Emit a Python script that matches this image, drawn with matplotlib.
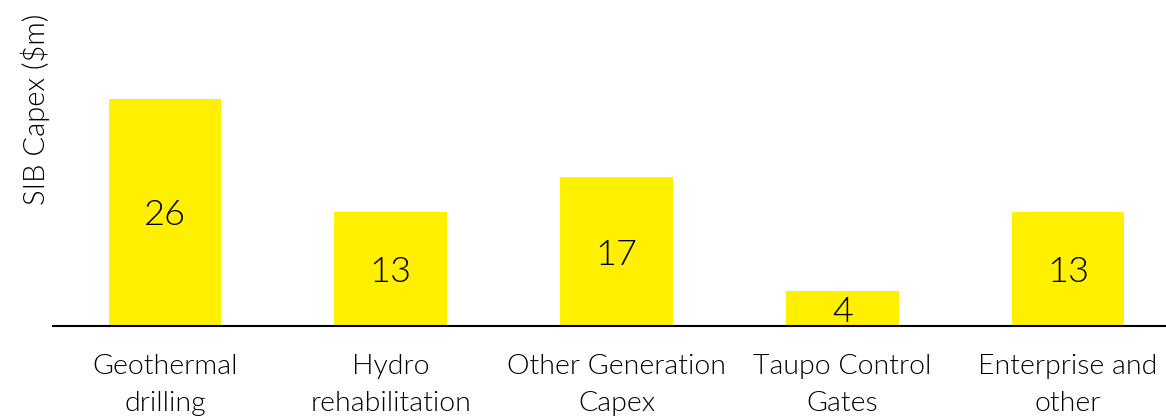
import matplotlib as mpl
mpl.use("Agg")
import matplotlib.pyplot as plt

categories = ["Geothermal\ndrilling", "Hydro\nrehabilitation", "Other Generation\nCapex",
              "Taupo Control\nGates", "Enterprise and\nother"]
values = [26, 13, 17, 4, 13]

plt.rcParams['font.family'] = ['Lato', 'DejaVu Sans']
W = 300  # light, not hairline

fig = plt.figure(figsize=(11.66, 4.17), dpi=100)
ax = fig.add_axes([53 / 1166, 1 - 326 / 417, 1 - 53 / 1166, 326 / 417])

x = list(range(len(values)))
ax.bar(x, values, width=0.5, color='#FFF000')
for xi, v in zip(x, values):
    ax.text(xi, v / 2, str(v), ha='center', va='center_baseline', fontsize=26, fontweight=W, color='black')

ax.set_xlim(-0.496, 4.434)
ax.set_ylim(0, 37.3)
ax.set_xticks(x)
ax.set_xticklabels(categories, fontsize=20.5, fontweight=W, linespacing=1.6, color='black')
ax.tick_params(axis='x', length=0, pad=20)
ax.set_yticks([])
for s in ['top', 'right', 'left']:
    ax.spines[s].set_visible(False)
ax.spines['bottom'].set_linewidth(1.5)
ax.set_ylabel("SIB Capex ($m)", fontsize=21, fontweight=W, color='black')
ax.yaxis.set_label_coords(-0.003, 0.665)

fig.savefig('out.png', dpi=100)
